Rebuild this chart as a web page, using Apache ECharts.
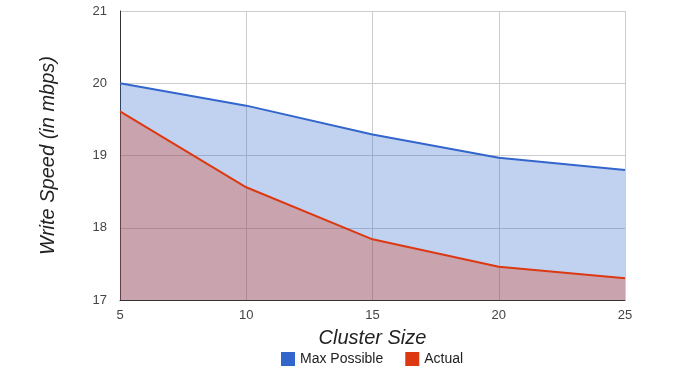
<!DOCTYPE html>
<html>
<head>
<meta charset="utf-8">
<script src="https://cdn.jsdelivr.net/npm/echarts@6/dist/echarts.min.js"></script>
<style>
html,body{margin:0;padding:0;background:#fff;}
#chart{width:673px;height:372px;}
</style>
</head>
<body>
<div id="chart"></div>
<script>
let clusterSize = [5, 10, 15, 20, 25]
let maxPossible = [20.0, 19.69, 19.29, 18.97, 18.80]
let actual = [19.61, 18.56, 17.84, 17.46, 17.30]

let myChart = echarts.init(document.getElementById('chart'))

let font = 'Liberation Sans, Arial, sans-serif'

let option = {
    animation: false,
    textStyle: {fontFamily: font},
    grid: {left: 120, right: 48, top: 11, bottom: 72},
    legend: {
        top: 352,
        left: 281,
        padding: 0,
        itemWidth: 14,
        itemHeight: 14,
        itemGap: 22,
        icon: 'rect',
        textStyle: {fontSize: 14, color: '#222', fontFamily: font},
        data: ['Max Possible', 'Actual']
    },
    xAxis: {
        type: 'value',
        min: 5,
        max: 25,
        interval: 5,
        name: 'Cluster Size',
        nameLocation: 'middle',
        nameGap: 28,
        nameTextStyle: {fontSize: 20, fontStyle: 'italic', color: '#222', fontFamily: font},
        axisLine: {show: true, lineStyle: {color: '#333'}},
        axisTick: {show: false},
        axisLabel: {fontSize: 13, color: '#444', margin: 9},
        splitLine: {show: true, lineStyle: {color: '#ccc'}}
    },
    yAxis: {
        type: 'value',
        min: 17,
        max: 21,
        interval: 1,
        name: 'Write Speed (in mbps)',
        nameLocation: 'middle',
        nameGap: 62,
        nameTextStyle: {fontSize: 20, fontStyle: 'italic', color: '#222', fontFamily: font},
        axisLine: {show: true, lineStyle: {color: '#333'}},
        axisTick: {show: false},
        axisLabel: {fontSize: 13, color: '#444', margin: 13},
        splitLine: {show: true, lineStyle: {color: '#ccc'}}
    },
    series: [
        {
            name: 'Max Possible',
            type: 'line',
            data: clusterSize.map((x, i) => [x, maxPossible[i]]),
            symbol: 'none',
            itemStyle: {color: '#3366cc'},
            lineStyle: {color: '#3366cc', width: 2},
            areaStyle: {color: '#3366cc', opacity: 0.3, origin: 'start'}
        },
        {
            name: 'Actual',
            type: 'line',
            data: clusterSize.map((x, i) => [x, actual[i]]),
            symbol: 'none',
            itemStyle: {color: '#dc3912'},
            lineStyle: {color: '#dc3912', width: 2},
            areaStyle: {color: '#dc3912', opacity: 0.3, origin: 'start'}
        }
    ]
}
myChart.setOption(option)
</script>
</body>
</html>
